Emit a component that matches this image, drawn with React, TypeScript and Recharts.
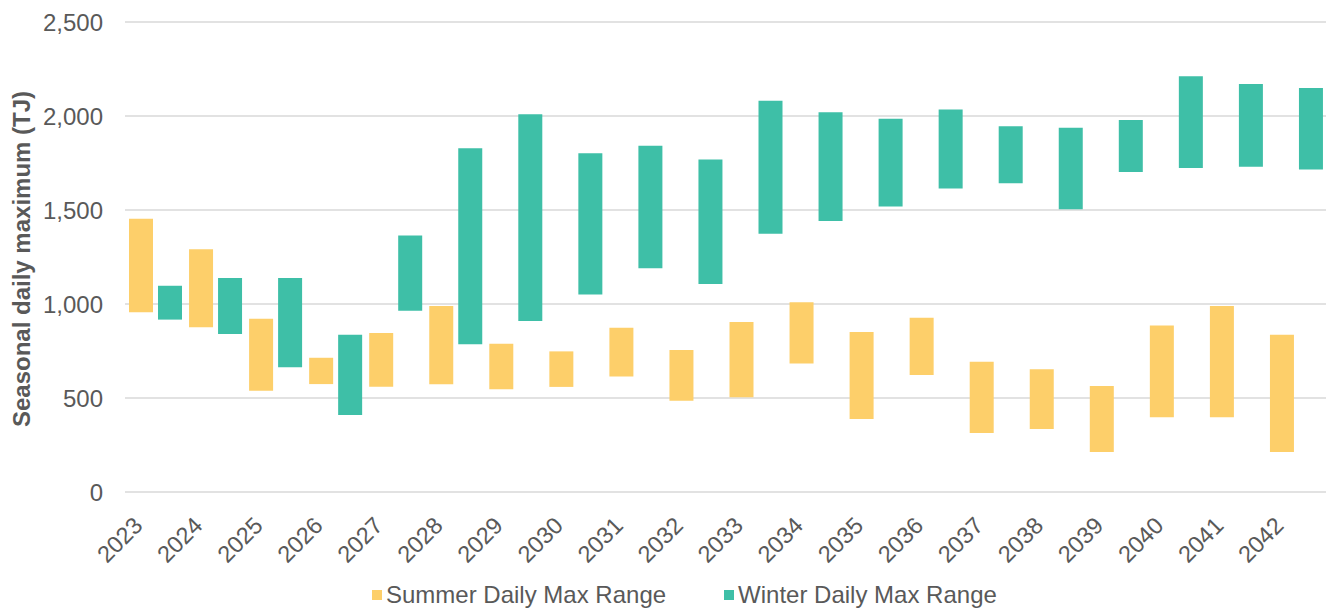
import React from 'react';
import { BarChart, Bar, XAxis, YAxis, CartesianGrid, Legend } from 'recharts';

const years = ['2023', '2024', '2025', '2026', '2027', '2028', '2029', '2030', '2031', '2032',
    '2033', '2034', '2035', '2036', '2037', '2038', '2039', '2040', '2041', '2042'];

// daily max ranges, TJ
const summerLow = [956, 876, 539, 574, 560, 573, 546, 559, 615, 486, 504, 683, 388, 622, 314, 335, 213, 397, 397, 213];
const summerHigh = [1454, 1291, 922, 714, 846, 989, 789, 748, 874, 755, 904, 1009, 851, 927, 693, 653, 564, 885, 989, 837];
const winterLow = [917, 840, 663, 410, 964, 786, 910, 1051, 1190, 1106, 1374, 1441, 1518, 1615, 1642, 1504, 1702, 1723, 1730, 1716];
const winterHigh = [1097, 1138, 1138, 837, 1365, 1828, 2009, 1802, 1842, 1768, 2081, 2020, 1986, 2034, 1945, 1938, 1979, 2211, 2170, 2149];

const yTicks = [0, 500, 1000, 1500, 2000, 2500];

const SUMMER = '#FDCF6A';
const WINTER = '#3EBFA7';
const TEXT = '#595959';
const FONT = '"Liberation Sans", Arial, sans-serif';

const chartData = years.map((year, i) => ({
    year,
    summer: [summerLow[i], summerHigh[i]],
    winter: [winterLow[i], winterHigh[i]],
}));

function YearTick(props: any) {
    const { x, y, payload } = props;
    const ax = x - 11;
    const ay = y + 33;
    return (
        <text
            x={ax}
            y={ay}
            transform={`rotate(-45, ${ax}, ${ay})`}
            textAnchor="end"
            fill={TEXT}
            fontSize={23.5}
            fontFamily={FONT}
        >
            {payload.value}
        </text>
    );
}

function YLabel(props: any) {
    const vb = props.viewBox || {};
    const cy = (vb.y ?? 22) + (vb.height ?? 470) / 2 + 2;
    return (
        <text
            x={21}
            y={cy}
            transform={`rotate(-90, 21, ${cy})`}
            textAnchor="middle"
            dominantBaseline="central"
            fill={TEXT}
            fontSize={24}
            fontWeight="bold"
            fontFamily={FONT}
        >
            Seasonal daily maximum (TJ)
        </text>
    );
}

function LegendBox() {
    const items = [
        { label: 'Summer Daily Max Range', color: SUMMER },
        { label: 'Winter Daily Max Range', color: WINTER },
    ];
    return (
        <div style={{ height: 40, display: 'flex', alignItems: 'center', paddingLeft: 372, boxSizing: 'border-box', paddingTop: 6 }}>
            {items.map((it, i) => (
                <div key={it.label} style={{ display: 'flex', alignItems: 'center', marginRight: i === 0 ? 58 : 0 }}>
                    <span style={{ width: 10, height: 10, background: it.color, display: 'inline-block', marginRight: 4 }}></span>
                    <span style={{ color: TEXT, fontSize: 24, fontFamily: FONT, lineHeight: '26px' }}>{it.label}</span>
                </div>
            ))}
        </div>
    );
}

export default function App() {
    return (
        <div style={{ position: 'fixed', left: 0, top: 0, width: 1327, height: 612, background: '#fff' }}>
            <BarChart
                width={1327}
                height={612}
                data={chartData}
                margin={{ top: 22, right: 1, left: 0, bottom: 0 }}
                barGap={5}
                barSize={24}
            >
                <CartesianGrid vertical={false} stroke="#d9d9d9" strokeWidth={1.5} />
                <XAxis
                    dataKey="year"
                    axisLine={false}
                    tickLine={false}
                    interval={0}
                    height={80}
                    tickSize={0}
                    tick={<YearTick />}
                />
                <YAxis
                    domain={[0, 2500]}
                    ticks={yTicks}
                    axisLine={false}
                    tickLine={false}
                    tickSize={0}
                    tickMargin={22}
                    width={125}
                    tick={{ fill: TEXT, fontSize: 24, fontFamily: FONT }}
                    tickFormatter={(v: number) => v.toLocaleString('en-US')}
                    label={<YLabel />}
                />
                <Legend verticalAlign="bottom" content={<LegendBox />} wrapperStyle={{ left: 0, width: 1327 }} />
                <Bar dataKey="summer" name="Summer Daily Max Range" fill={SUMMER} isAnimationActive={false} />
                <Bar dataKey="winter" name="Winter Daily Max Range" fill={WINTER} isAnimationActive={false} />
            </BarChart>
        </div>
    );
}
